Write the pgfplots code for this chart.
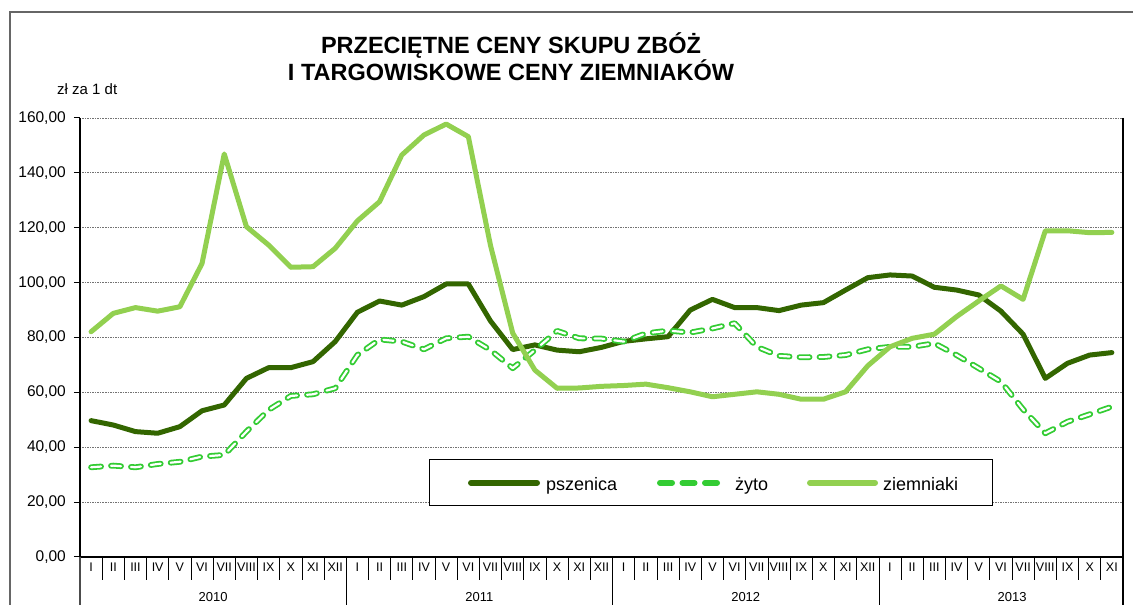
\documentclass[border=0pt]{standalone}
\usepackage{fontspec}
\setmainfont{Liberation Sans}
\usepackage{pgfplots}
\usepackage{pgfplotstable}
\pgfplotsset{compat=1.18}

\definecolor{psz}{RGB}{51,102,0}
\definecolor{zyt}{RGB}{51,204,51}
\definecolor{zie}{RGB}{146,208,80}

% miesiace 2010 I - 2013 XI (0..46)
\pgfplotstableread{
m psz zyt zie
0  49.7 32.7 82.1
1  48.1 33.3 88.8
2  45.7 32.7 90.9
3  45.1 33.9 89.6
4  47.5 34.7 91.2
5  53.3 36.6 107.0
6  55.4 37.2 146.9
7  65.1 45.7 120.4
8  69.0 53.6 113.7
9  69.0 58.7 105.6
10 71.2 59.3 105.8
11 78.5 61.5 112.5
12 89.2 73.6 122.5
13 93.3 79.3 129.5
14 91.8 78.5 146.5
15 94.9 75.7 153.8
16 99.5 79.7 157.8
17 99.5 80.3 153.2
18 86.0 75.4 113.5
19 75.6 68.8 81.6
20 77.3 75.4 68.1
21 75.4 82.4 61.5
22 74.8 79.7 61.6
23 76.4 79.6 62.2
24 78.6 78.5 62.5
25 79.5 81.5 63.0
26 80.3 82.5 61.7
27 90.0 81.8 60.2
28 93.9 83.3 58.4
29 90.9 85.2 59.3
30 90.9 76.6 60.2
31 89.8 73.3 59.3
32 91.8 72.8 57.5
33 92.7 72.9 57.5
34 97.3 73.6 60.2
35 101.8 75.7 69.7
36 102.8 76.6 76.6
37 102.4 76.6 79.7
38 98.3 77.9 81.2
39 97.3 73.6 87.6
40 95.5 68.8 93.3
41 89.6 63.9 98.8
42 81.2 53.8 93.9
43 65.1 45.1 118.9
44 70.6 49.3 118.9
45 73.6 52.0 118.2
46 74.5 54.8 118.3
}\dane

\begin{document}
\begin{tikzpicture}[x=1pt,y=1pt]
\useasboundingbox (0,0) rectangle (1133,605);
% ramka
\draw[black!60, line width=1.5pt] (10,-10) -- (10,593) -- (1145,593);

\node[align=center, font=\fontsize{23.5}{27}\selectfont\bfseries] at (511,548)
  {PRZECIĘTNE CENY SKUPU ZBÓŻ\\I TARGOWISKOWE CENY ZIEMNIAKÓW};
\node[anchor=base west, inner sep=0pt, font=\fontsize{15}{18}\selectfont] at (57,510) {zł za 1 dt};

\begin{axis}[
  at={(80pt,48pt)}, anchor=south west,
  scale only axis, width=1043pt, height=439pt,
  xmin=-0.5, xmax=46.5, ymin=0, ymax=160,
  axis x line*=bottom, axis y line*=left,
  axis line style={black, line width=1.3pt},
  ytick={0,20,...,160},
  yticklabel={\pgfmathprintnumber[fixed,fixed zerofill,precision=2,use comma]{\tick}},
  /pgf/number format/assume math mode=true,
  yticklabel style={font=\fontsize{15.5}{18}\selectfont, inner sep=0pt, anchor=east, xshift=-8pt},
  ymajorgrids,
  major grid style={black!55, line width=0.9pt, dash pattern=on 1.5pt off 1pt},
  tick align=outside, major tick length=6pt,
  ytick style={black, line width=1pt},
  xtick={0,...,46},
  xticklabels={I,II,III,IV,V,VI,VII,VIII,IX,X,XI,XII,
               I,II,III,IV,V,VI,VII,VIII,IX,X,XI,XII,
               I,II,III,IV,V,VI,VII,VIII,IX,X,XI,XII,
               I,II,III,IV,V,VI,VII,VIII,IX,X,XI},
  xtick style={draw=none},
  xticklabel style={font=\fontsize{12.5}{14}\selectfont, inner sep=0pt, anchor=north},
  clip=false,
]
\addplot[psz, line width=5pt, line join=round, line cap=round] table[x=m, y=psz] {\dane};
\addplot[zyt, line width=1.8pt, double=white, double distance=2.2pt,
         dash pattern=on 10pt off 10pt, line join=round, line cap=round] table[x=m, y=zyt] {\dane};
\addplot[zie, line width=5pt, line join=round, line cap=round] table[x=m, y=zie] {\dane};
\end{axis}

% podzialka miesiecy i lat
\foreach \k in {1,...,46} \draw[line width=0.8pt] ({80+22.1915*\k},48) -- ({80+22.1915*\k},25);
\foreach \k in {12,24,36} \draw[line width=0.8pt] ({80+22.1915*\k},25) -- ({80+22.1915*\k},-10);
\draw[line width=1.2pt] (1123,487) -- (1123,-10);
\draw[line width=1.3pt, black!70] (80,48) -- (80,-10);
\foreach \y/\j in {2010/0,2011/1,2012/2,2013/3}
  \node[inner sep=0pt, font=\fontsize{13}{15}\selectfont] at ({80+22.1915*(6+12*\j)},8) {\y};

% legenda
\draw[fill=white, line width=1pt] (429,99.2) rectangle (992,145.5);
\draw[psz, line width=6pt, line cap=round] (471,122.2) -- (537,122.2);
\node[anchor=base west, inner sep=0pt, font=\fontsize{18}{21}\selectfont] at (546,114) {pszenica};
\draw[zyt, line width=6pt, line cap=round, dash pattern=on 12pt off 10.5pt] (660,122.2) -- (717,122.2);
\node[anchor=base west, inner sep=0pt, font=\fontsize{18}{21}\selectfont] at (735,114) {żyto};
\draw[zie, line width=6pt, line cap=round] (810,122.2) -- (875,122.2);
\node[anchor=base west, inner sep=0pt, font=\fontsize{18}{21}\selectfont] at (883,114) {ziemniaki};
\end{tikzpicture}
\end{document}
